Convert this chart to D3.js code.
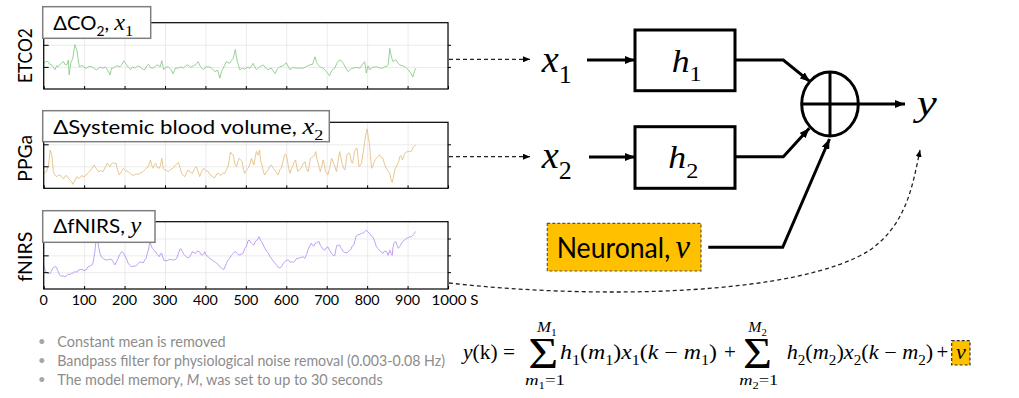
<!DOCTYPE html>
<html><head><meta charset="utf-8">
<script src="https://cdn.jsdelivr.net/npm/d3@7"></script>
<style>body{margin:0;background:#fff}svg{display:block}text{white-space:pre}</style>
</head><body>
<svg id="c" width="1019" height="398"></svg>
<script>
// ---------------- data ----------------
const xTickValues = [0,100,200,300,400,500,600,700,800,900,1000];
const xTickLabels = ["0","100","200","300","400","500","600","700","800","900","1000"];
const xUnit = "S";

const etco2Time = [0,6,11,15,20,24,28,32,36,42,49,53,57,61,63,67,72,77,82,88,93,98,102,106,112,119,125,131,139,147,153,160,164,168,172,180,189,194,198,205,210,215,220,226,232,238,244,250,255,259,265,271,277,283,288,292,297,302,308,314,320,326,333,339,345,351,357,363,370,376,382,388,395,401,407,415,423,430,436,440,444,452,460,465,469,474,478,485,491,497,503,510,518,526,534,543,549,555,563,572,578,584,592,600,605,609,617,625,633,642,650,658,665,671,675,679,685,691,699,707,713,720,726,731,736,741,747,753,759,765,773,782,788,794,798,802,806,814,823,831,839,844,848,852,856,860,864,868,872,877,881,887,893,897,901,907,913,917,920];
const etco2Value = [1.16,1.25,1.24,1.12,1.09,0.98,0.87,1.05,1.01,1.15,1.24,1.10,1.09,1.31,0.64,1.18,1.39,2.01,1.76,1.01,1.05,1.04,0.95,0.94,1.02,1.01,0.92,0.87,0.99,0.94,1.00,0.79,0.64,0.95,0.94,1.05,1.01,1.12,1.28,1.09,0.96,0.87,1.00,0.94,1.05,1.01,0.90,0.87,1.05,1.12,0.96,0.94,1.05,1.09,1.00,1.28,0.87,0.98,1.01,0.90,0.69,0.95,0.94,1.00,0.94,1.05,1.09,0.98,1.05,1.10,1.24,1.00,0.87,1.00,1.01,0.95,0.79,0.85,0.49,0.80,0.94,1.24,1.16,1.30,1.39,1.79,1.31,0.87,0.94,0.90,0.98,0.94,1.16,0.87,1.00,1.09,0.95,0.87,0.95,0.69,0.90,1.01,1.05,1.19,1.02,0.87,0.98,0.94,0.95,0.94,1.02,1.09,1.12,1.46,1.20,1.09,0.98,0.94,0.80,0.60,0.85,0.94,1.20,1.31,1.28,1.16,0.95,0.79,0.90,0.94,0.98,0.94,1.10,1.24,0.72,1.05,0.87,0.98,1.01,0.95,0.94,1.02,1.01,1.10,1.84,1.45,1.24,1.30,1.31,1.15,1.09,1.05,1.01,0.95,0.87,0.75,0.54,0.80,0.94];

const ppgTime = [0,7,12,16,20,24,28,32,36,40,45,49,53,57,61,65,69,72,77,82,88,94,100,105,110,115,120,125,130,135,141,147,152,157,161,164,168,172,176,179,183,187,192,197,203,209,215,222,228,234,240,246,253,259,264,268,271,274,277,281,286,289,292,296,300,304,308,314,320,326,333,337,341,345,349,353,357,362,368,373,378,382,386,391,396,401,407,411,415,419,423,428,432,436,440,444,448,452,456,459,462,466,469,473,477,480,483,487,491,494,497,501,506,510,514,517,520,523,526,530,534,537,540,544,547,551,555,559,563,568,572,576,580,584,588,592,596,599,602,606,609,613,617,620,623,626,629,633,637,641,646,650,654,657,660,663,666,670,673,676,679,682,684,688,691,694,697,700,703,707,712,714,717,721,724,728,732,735,738,742,745,748,750,754,757,761,764,767,769,772,775,778,780,783,786,790,794,797,800,803,805,808,811,814,816,820,823,827,831,835,839,843,847,851,856,859,862,865,868,871,874,878,881,884,887,890,893,897,901,905,909,912,915,918,920];
const ppgValue = [0.68,0.76,1.06,1.74,1.52,0.76,0.60,0.53,0.58,0.61,0.50,0.42,0.55,0.58,0.45,0.38,0.30,0.18,0.35,0.53,0.45,0.58,0.52,0.61,0.70,0.79,0.92,1.06,0.90,0.76,0.80,0.76,0.95,1.14,1.05,0.98,1.10,1.18,1.12,1.14,0.80,0.61,0.75,0.91,0.80,0.76,0.65,0.58,0.65,0.64,0.70,0.76,0.90,0.98,1.29,1.00,0.91,1.08,1.14,0.95,0.91,1.05,1.36,0.90,0.83,0.80,0.76,0.85,0.91,1.05,1.18,0.95,0.68,0.60,0.53,0.70,0.83,0.75,0.68,0.90,0.98,0.75,0.53,0.78,0.91,0.80,0.76,0.62,0.58,0.50,0.48,0.65,0.68,0.60,0.61,0.70,0.68,0.85,0.98,1.30,1.64,1.55,1.52,1.10,0.98,1.20,1.36,1.30,1.21,0.85,0.68,0.82,0.91,1.10,1.36,1.20,1.06,1.40,1.67,1.50,1.74,1.20,1.06,0.70,0.61,0.75,0.83,1.00,1.06,0.90,0.83,0.70,0.61,0.85,0.91,1.25,1.52,1.55,1.36,0.90,0.68,0.90,1.06,1.20,1.29,0.95,0.76,0.85,0.91,1.10,1.21,0.90,0.76,1.05,1.36,1.40,1.44,1.50,1.67,1.30,1.14,0.90,0.76,1.00,1.29,1.10,0.76,0.70,0.61,0.90,1.36,1.30,1.14,0.95,0.76,1.20,1.67,1.40,1.14,0.90,0.83,1.20,1.52,1.60,1.59,1.20,1.14,1.45,1.67,1.80,1.82,1.30,0.98,1.05,1.14,1.60,2.12,2.50,2.70,2.30,2.12,1.50,0.91,1.00,1.14,1.30,1.36,1.45,1.52,1.40,1.36,1.10,0.91,0.80,0.68,0.40,0.27,0.50,0.83,0.95,1.06,1.20,1.44,1.50,1.29,1.40,1.59,1.65,1.67,1.67,1.67,1.80,1.89,1.94,1.94];

const fnirsTime = [0,4,7,12,16,19,22,26,30,33,36,39,42,47,53,57,61,65,69,73,77,82,86,90,94,100,105,110,115,119,122,124,127,129,133,136,139,143,147,152,157,162,168,172,176,180,184,188,193,197,201,205,209,213,217,222,228,233,238,242,246,250,253,256,259,261,263,266,269,273,277,281,286,289,292,295,297,300,304,308,312,316,320,325,329,333,337,340,343,347,352,356,360,364,368,372,376,380,385,389,393,396,398,402,407,411,415,419,423,427,432,436,440,443,446,449,452,456,460,464,469,472,475,479,483,488,493,497,501,505,508,511,514,517,520,524,528,533,536,539,543,547,551,555,559,563,568,572,576,580,584,588,592,596,600,605,609,613,617,621,625,629,633,637,641,646,650,654,658,662,665,668,671,675,678,681,684,687,691,695,699,703,707,712,716,720,723,726,729,732,736,741,745,750,755,759,763,767,770,773,777,782,786,790,794,798,802,806,810,815,819,823,827,831,835,839,843,848,852,856,859,862,864,866,868,871,874,877,880,885,889,893,897,901,905,909,912,915,918,920];
const fnirsValue = [1.37,1.10,0.97,0.93,0.93,1.05,1.23,1.30,1.33,1.20,1.03,0.85,0.77,0.78,0.73,0.80,0.89,0.85,0.93,0.95,1.03,1.00,1.13,1.15,1.17,1.10,1.13,1.33,1.37,1.43,1.55,1.82,2.30,2.81,2.95,2.50,2.13,1.90,1.82,1.75,1.72,1.76,1.76,1.60,1.43,1.62,1.82,2.05,2.22,2.15,1.96,1.78,1.53,1.40,1.33,1.35,1.37,1.48,1.62,1.58,1.56,1.73,1.82,2.10,2.32,2.60,2.81,2.55,2.42,2.30,2.22,2.05,1.92,2.10,2.12,1.85,1.72,1.70,1.68,1.72,1.76,1.74,1.72,1.75,1.82,2.10,2.36,2.38,2.22,2.05,1.92,1.85,1.88,2.05,2.22,2.15,2.12,2.25,2.22,2.05,2.02,2.10,2.22,2.00,1.92,1.80,1.76,1.68,1.62,1.56,1.43,1.32,1.23,1.18,1.17,1.35,1.53,1.73,1.82,2.00,2.12,2.20,2.22,2.10,2.02,2.05,2.12,2.40,2.50,2.85,2.91,2.80,2.72,2.65,2.62,2.85,2.91,3.11,2.90,2.82,2.62,2.42,2.25,2.16,1.95,1.82,1.65,1.53,1.43,1.29,1.25,1.32,1.50,1.62,1.70,1.73,1.60,1.62,1.58,1.66,1.80,1.82,1.85,1.88,1.92,1.82,2.05,2.35,2.55,2.72,2.60,2.55,2.70,2.75,2.80,2.82,2.60,2.50,2.38,2.30,2.45,2.50,2.30,2.10,2.00,1.98,2.40,2.62,2.58,2.62,2.40,2.22,2.16,2.16,2.25,2.32,2.55,2.62,2.90,3.15,3.22,3.25,3.30,3.33,3.40,3.50,3.38,3.30,3.18,3.05,2.80,2.52,2.40,2.28,2.20,2.12,2.25,2.22,2.00,2.30,2.12,2.00,2.45,2.70,2.78,2.82,2.60,2.42,2.50,2.72,2.85,2.92,3.00,3.05,3.10,3.10,3.15,3.25,3.35,3.42];

const panelNames = ["ETCO2","PPGa","fNIRS"];
const bullets = ["Constant mean is removed","Bandpass filter for physiological noise removal (0.003-0.08 Hz)","The model memory, M, was set to up to 30 seconds"];

// ---------------- setup ----------------
const SANS = "Lato, 'Open Sans', sans-serif";
const MATH = "'Liberation Serif', 'DejaVu Serif', serif";
const svg = d3.select('#c');
const X0 = 43.7, X1 = 448;
const x = d3.scaleLinear().domain([0,1000]).range([X0, X1]);

const defs = svg.append('defs');
function marker(id, len, wid){
  defs.append('marker').attr('id',id).attr('viewBox',`0 0 ${len} ${wid}`)
    .attr('refX',len).attr('refY',wid/2).attr('markerWidth',len).attr('markerHeight',wid)
    .attr('markerUnits','userSpaceOnUse').attr('orient','auto')
    .append('path').attr('d',`M0,0L${len},${wid/2}L0,${wid}Z`).attr('fill','#000');
}
marker('solid', 10, 8);
marker('dash', 7, 6);

function rich(g, x, y, parts, size, anchor, mscale){
  mscale = mscale || 1;
  const t = g.append('text').attr('x',x).attr('y',y).attr('font-size',size)
    .attr('text-anchor',anchor||'start').attr('fill','#000');
  let cur = 0;
  parts.forEach(([str, st])=>{
    const sub = st.includes('_'), it = st.includes('i'), math = st[0]==='m';
    const rel = (sub?0.68:1)*(math?mscale:1), target = sub?0.3:0;
    const ts = t.append('tspan').text(str).attr('font-family', math?MATH:SANS)
      .attr('font-style', it?'italic':'normal').attr('font-size', rel.toFixed(3)+'em');
    if (target!==cur){ ts.attr('dy', ((target-cur)/rel).toFixed(3)+'em'); cur = target; }
  });
  return t;
}
function fit(t, w){
  t.attr('textLength', w).attr('lengthAdjust','spacingAndGlyphs');
  return t;
}

// ---------------- panels ----------------
const panels = [
  {name:panelNames[0], time:etco2Time, value:etco2Value, color:'#86c986', top:22.7, bottom:89, domain:[0,3], ticks:[1,2],
   labelW:55, labelY:55.6,
   box:[42.7,6.7,108,31.6], text:[['ΔCO','a'],['2','a_'],[', ','a'],['x','mi'],['1','m_']], textX:53.3, textY:30, textW:80},
  {name:panelNames[1], time:ppgTime, value:ppgValue, color:'#e2bd7c', top:122.3, bottom:188.3, domain:[0,3], ticks:[1,2],
   labelW:46.7, labelY:158.3,
   box:[42.7,110.7,286.6,31], text:[['ΔSystemic blood volume, ','a'],['x','mi'],['2','m_']], textX:53.3, textY:134.3, textW:270},
  {name:panelNames[2], time:fnirsTime, value:fnirsValue, color:'#b48ef5', top:221.7, bottom:289, domain:[0,4], ticks:[1,2,3],
   labelW:50, labelY:256.7,
   box:[42.7,210.7,112.3,31.6], text:[['ΔfNIRS, ','a'],['y','mi']], textX:53.3, textY:233.3, textW:88}
];

panels.forEach((p,i)=>{
  const y = d3.scaleLinear().domain(p.domain).range([p.bottom, p.top]);
  const g = svg.append('g');
  const H = p.bottom - p.top;
  g.append('g').attr('transform',`translate(0,${p.bottom})`)
    .call(d3.axisBottom(x).tickValues(xTickValues).tickSize(-H).tickFormat(''))
    .call(s=>{s.select('.domain').remove(); s.selectAll('line').attr('stroke','#e6e6e6').attr('stroke-width',0.8);});
  g.append('g').attr('transform',`translate(${X0},0)`)
    .call(d3.axisLeft(y).tickValues(p.ticks).tickSize(-(X1-X0)).tickFormat(''))
    .call(s=>{s.select('.domain').remove(); s.selectAll('line').attr('stroke','#e6e6e6').attr('stroke-width',0.8);});
  g.append('path').datum(d3.zip(p.time,p.value))
    .attr('d', d3.line().x(d=>x(d[0])).y(d=>y(d[1])))
    .attr('fill','none').attr('stroke',p.color).attr('stroke-width',0.85).attr('stroke-linejoin','round');
  g.append('g').attr('transform',`translate(0,${p.bottom})`)
    .call(d3.axisBottom(x).tickValues(xTickValues).tickSize(-3).tickFormat(''))
    .call(s=>{s.select('.domain').remove(); s.selectAll('line').attr('stroke','#000');});
  g.append('g').attr('transform',`translate(${X0},0)`)
    .call(d3.axisLeft(y).tickValues(p.ticks).tickSize(-5).tickFormat(''))
    .call(s=>{s.select('.domain').remove(); s.selectAll('line').attr('stroke','#000');});
  g.append('g').attr('transform',`translate(${X1},0)`)
    .call(d3.axisRight(y).tickValues(p.ticks).tickSize(3).tickFormat(''))
    .call(s=>{s.select('.domain').remove(); s.selectAll('line').attr('stroke','#000');});
  g.append('rect').attr('x',X0).attr('y',p.top).attr('width',X1-X0).attr('height',H)
    .attr('fill','none').attr('stroke','#000').attr('stroke-width',1.2);
  const yl = g.append('text').attr('transform',`translate(31.5,${p.labelY}) rotate(-90)`)
    .attr('text-anchor','middle').attr('font-family',SANS).attr('font-size',19).text(p.name);
  fit(yl, p.labelW);
  g.append('rect').attr('x',p.box[0]).attr('y',p.box[1]).attr('width',p.box[2]).attr('height',p.box[3])
    .attr('fill','#fff').attr('stroke','#7f7f7f').attr('stroke-width',1.5);
  fit(rich(g, p.textX, p.textY, p.text, 19, 'start', 1.2), p.textW);
  if (i === panels.length-1){
    xTickValues.forEach((v,k)=>{
      const lab = xTickLabels[k];
      if (k < xTickValues.length-1){
        fit(g.append('text').attr('x',x(v)).attr('y',305).attr('text-anchor','middle')
          .attr('font-family',SANS).attr('font-size',14).text(lab), lab.length*8.3);
      } else {
        const numW = lab.length*8.3;
        fit(g.append('text').attr('x',x(v)-numW/2).attr('y',305).attr('text-anchor','start')
          .attr('font-family',SANS).attr('font-size',14).text(lab+' '+xUnit), numW+14);
      }
    });
  }
});

// ---------------- bullets ----------------
const bl = svg.append('g');
const bulletY = [346.5, 366, 385];
const bulletW = [168.4, 387.7, 325.4];
bullets.forEach((b,i)=>{
  bl.append('text').attr('x',41.7).attr('y',bulletY[i]-1).attr('text-anchor','middle')
    .attr('font-family',SANS).attr('font-size',13).attr('fill','#a6a6a6').text('•');
  const t = bl.append('text').attr('x',57.3).attr('y',bulletY[i]).attr('font-family',SANS)
    .attr('font-size',14.5).attr('fill','#8c8c8c');
  if (i===2){
    const parts = b.split('M');
    t.append('tspan').text(parts[0]);
    t.append('tspan').attr('font-style','italic').text('M');
    t.append('tspan').text(parts[1]);
  } else t.text(b);
  fit(t, bulletW[i]);
});

// ---------------- diagram ----------------
const dg = svg.append('g').attr('fill','none').attr('stroke','#000');
const dashStyle = s=>s.attr('stroke-width',1.3).attr('stroke-dasharray','4,3').attr('stroke','#222');
dashStyle(dg.append('line').attr('x1',449).attr('y1',59.3).attr('x2',530).attr('y2',59.3).attr('marker-end','url(#dash)'));
dashStyle(dg.append('line').attr('x1',449).attr('y1',156.7).attr('x2',530).attr('y2',156.7).attr('marker-end','url(#dash)'));
dashStyle(dg.append('path').attr('d','M449,283 C600,300 800,295 870,250 C905,225 912,190 920,150').attr('marker-end','url(#dash)'));

const solid = s=>s.attr('stroke-width',3).attr('stroke','#000').attr('fill','none');
solid(dg.append('line').attr('x1',587).attr('y1',60).attr('x2',635).attr('y2',60).attr('marker-end','url(#solid)'));
solid(dg.append('line').attr('x1',589).attr('y1',157).attr('x2',635).attr('y2',157).attr('marker-end','url(#solid)'));
solid(dg.append('rect').attr('x',635).attr('y',30).attr('width',100).attr('height',60.7));
solid(dg.append('rect').attr('x',635).attr('y',126.7).attr('width',100).attr('height',61.6));
solid(dg.append('path').attr('d','M735,60 L783.3,60 L810,81.7').attr('marker-end','url(#solid)'));
solid(dg.append('path').attr('d','M735,156.7 L783.3,156.7 L809.3,128.3').attr('marker-end','url(#solid)'));
solid(dg.append('path').attr('d','M708.3,247.3 L782.7,247.3 L829.5,139').attr('marker-end','url(#solid)'));
solid(dg.append('ellipse').attr('cx',830).attr('cy',104).attr('rx',28.3).attr('ry',32));
solid(dg.append('line').attr('x1',801.7).attr('y1',104).attr('x2',858.3).attr('y2',104));
solid(dg.append('line').attr('x1',830).attr('y1',72).attr('x2',830).attr('y2',136));
solid(dg.append('line').attr('x1',858).attr('y1',104).attr('x2',905).attr('y2',104).attr('marker-end','url(#solid)'));

svg.append('rect').attr('x',547.3).attr('y',223.3).attr('width',153.7).attr('height',47.7)
  .attr('fill','#ffc000').attr('stroke','#555').attr('stroke-width',1.2).attr('stroke-dasharray','3,2');
const tg = svg.append('g');
fit(rich(tg, 556.7, 258.3, [['Neuronal,','a']], 29), 113.5);
fit(rich(tg, 675.5, 258.3, [['v','mi']], 33), 14.5);

fit(rich(tg, 541.7, 71.7, [['x','mi'],['1','m_']], 37), 30);
fit(rich(tg, 541.7, 168.3, [['x','mi'],['2','m_']], 37), 30);
fit(rich(tg, 671.7, 71.7, [['h','mi'],['1','m_']], 32), 30);
fit(rich(tg, 668.3, 168.3, [['h','mi'],['2','m_']], 32), 30);
fit(rich(tg, 916.7, 115, [['y','mi']], 36), 20);

// ---------------- formula ----------------
const fg = svg.append('g');
fit(rich(fg, 463, 359.3, [['y','mi'],['(k) =','m']], 21), 52);
fit(fg.append('text').attr('x',543.3).attr('y',368).attr('text-anchor','middle').attr('font-family',MATH).attr('font-size',44).text('Σ'), 30);
fit(fg.append('text').attr('x',757.5).attr('y',368).attr('text-anchor','middle').attr('font-family',MATH).attr('font-size',44).text('Σ'), 29);
fit(rich(fg, 546.8, 332, [['M','mi'],['1','m_']], 15, 'middle'), 19.7);
fit(rich(fg, 757.5, 332, [['M','mi'],['2','m_']], 15, 'middle'), 18.5);
fit(rich(fg, 545, 385, [['m','mi'],['1','m_'],['=1','m']], 15, 'middle'), 40);
fit(rich(fg, 758.8, 385, [['m','mi'],['2','m_'],['=1','m']], 15, 'middle'), 39);
fit(rich(fg, 560, 359.3, [['h','mi'],['1','m_'],['(','m'],['m','mi'],['1','m_'],[')','m'],['x','mi'],['1','m_'],['(','m'],['k','mi'],[' − ','m'],['m','mi'],['1','m_'],[')','m']], 20.5), 157);
fit(rich(fg, 786.7, 359.3, [['h','mi'],['2','m_'],['(','m'],['m','mi'],['2','m_'],[')','m'],['x','mi'],['2','m_'],['(','m'],['k','mi'],[' − ','m'],['m','mi'],['2','m_'],[')','m']], 20.5), 146.6);
rich(fg, 730, 359.3, [['+','m']], 21, 'middle');
rich(fg, 942.5, 359.3, [['+','m']], 21, 'middle');
fg.append('rect').attr('x',951.7).attr('y',340.7).attr('width',18.3).attr('height',24.3)
  .attr('fill','#ffc000').attr('stroke','#333').attr('stroke-width',1.2).attr('stroke-dasharray','3,2');
rich(fg, 960.8, 359.3, [['v','mi']], 22, 'middle');
</script>
</body></html>
